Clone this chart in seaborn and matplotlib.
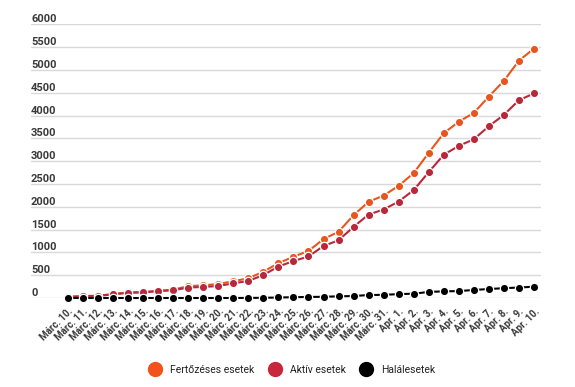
import matplotlib
matplotlib.use("Agg")
import matplotlib.pyplot as plt
from matplotlib.lines import Line2D
import seaborn as sns
import pandas as pd

dates = ["Márc. 10.", "Márc. 11.", "Márc. 12.", "Márc. 13.", "Márc. 14.", "Márc. 15.",
         "Márc. 16.", "Márc. 17.", "Márc. 18.", "Márc. 19.", "Márc. 20.", "Márc. 21.",
         "Márc. 22.", "Márc. 23.", "Márc. 24.", "Márc. 25.", "Márc. 26.", "Márc. 27.",
         "Márc. 28.", "Márc. 29.", "Márc. 30.", "Márc. 31.", "Apr. 1.", "Apr. 2.",
         "Apr. 3.", "Apr. 4.", "Apr. 5.", "Apr. 6.", "Apr. 7.", "Apr. 8.", "Apr. 9.",
         "Apr. 10."]
fertozeses = [25, 45, 49, 89, 123, 131, 158, 184, 260, 277, 308, 367, 433, 576, 762, 906,
              1029, 1292, 1452, 1815, 2109, 2245, 2460, 2738, 3183, 3613, 3864, 4057,
              4417, 4761, 5202, 5467]
aktiv = [22, 39, 45, 80, 112, 124, 149, 170, 229, 242, 263, 322, 373, 504, 690, 810,
         910, 1140, 1265, 1560, 1830, 1940, 2115, 2365, 2760, 3140, 3335, 3480, 3765,
         4015, 4335, 4485]
halal = [0, 0, 0, 0, 0, 0, 0, 0, 0, 0, 0, 0, 2, 4, 11, 17, 23, 26, 37, 43, 65, 69, 85,
         94, 133, 146, 151, 176, 197, 215, 229, 248]
series_names = ["Fertőzéses esetek", "Aktív esetek", "Halálesetek"]
yticks = [0, 500, 1000, 1500, 2000, 2500, 3000, 3500, 4000, 4500, 5000, 5500, 6000]

colors = ["#E8561F", "#B8283A", "#000000"]
legend_colors = ["#F2531C", "#C8263A", "#000000"]

sns.set_theme(style="white")
plt.rcParams["font.family"] = ["Roboto", "DejaVu Sans"]

idx = list(range(len(dates)))
df = pd.DataFrame({"i": idx * 3,
                   "v": fertozeses + aktiv + halal,
                   "s": [series_names[0]] * len(idx) + [series_names[1]] * len(idx)
                        + [series_names[2]] * len(idx)})

fig = plt.figure(figsize=(5.75, 3.87), dpi=100)
ax = fig.add_axes([31 / 575, 89 / 387, 510 / 575, (298 - 24.3) / 387])

for name, col in zip(series_names, colors):
    sub = df[df["s"] == name]
    sns.lineplot(data=sub, x="i", y="v", ax=ax, color=col, linewidth=1.5,
                 marker="o", markersize=6, markeredgecolor="white",
                 markeredgewidth=0.9, clip_on=False, zorder=3, legend=False)

ax.set_xlim(-2.46, 31.47)
ax.set_ylim(0, 6000)
ax.set_yticks(yticks)
ax.set_yticklabels([str(t) for t in yticks])
ax.set_xticks(idx)
ax.set_xticklabels(dates, rotation=45, ha="right", rotation_mode="anchor")
ax.set_xlabel("")
ax.set_ylabel("")
ax.grid(axis="y", color="#d9d9d9", linewidth=1)
ax.grid(axis="x", visible=False)
for sp in ax.spines.values():
    sp.set_visible(False)
ax.tick_params(axis="y", length=0, pad=0, labelsize=8, labelcolor="#3a3a3a")
ax.tick_params(axis="x", length=0, pad=6, labelsize=7, labelcolor="#3a3a3a")
for lab in ax.get_yticklabels():
    lab.set_ha("left")
    lab.set_va("bottom")
    lab.set_fontweight("bold")
for lab in ax.get_xticklabels():
    lab.set_fontweight("bold")

handles = [Line2D([], [], linestyle="none", marker="o", markersize=10,
                  markerfacecolor=c, markeredgecolor=c) for c in legend_colors]
fig.legend(handles, series_names, loc="center", bbox_to_anchor=(290 / 575, 1 - 370 / 387),
           ncol=3, frameon=False, fontsize=7.5, handletextpad=0.5, columnspacing=0.9,
           labelcolor="#222222")

fig.savefig("out.png", dpi=100)
